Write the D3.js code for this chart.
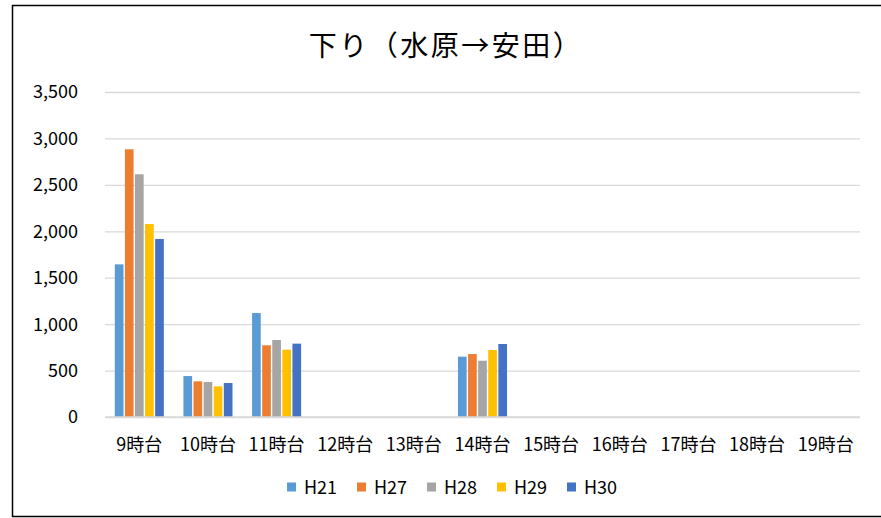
<!DOCTYPE html>
<html>
<head>
<meta charset="utf-8">
<script src="https://cdn.jsdelivr.net/npm/d3@7"></script>
<style>
  html, body { margin: 0; padding: 0; background: #fff; overflow: hidden; }
  svg { display: block; }
  svg text { font-family: "Noto Sans CJK JP", "Noto Sans", sans-serif; fill: #000; }
</style>
</head>
<body>
<div id="chart"></div>
<script>
// --- Data ---
const hours = ["9時台", "10時台", "11時台", "12時台", "13時台", "14時台", "15時台", "16時台", "17時台", "18時台", "19時台"];
const seriesNames = ["H21", "H27", "H28", "H29", "H30"];
const seriesColors = ["#5B9BD5", "#ED7D31", "#A5A5A5", "#FFC000", "#4472C4"];
const h21 = [1644, 441, 1120, null, null, 650, null, null, null, null, null];
const h27 = [2883, 384, 772, null, null, 678, null, null, null, null, null];
const h28 = [2614, 377, 829, null, null, 606, null, null, null, null, null];
const h29 = [2078, 330, 725, null, null, 721, null, null, null, null, null];
const h30 = [1917, 366, 790, null, null, 786, null, null, null, null, null];
const yTicks = [0, 500, 1000, 1500, 2000, 2500, 3000, 3500];

const seriesValues = [h21, h27, h28, h29, h30];

const width = 881, height = 518;
const margin = { top: 92, right: 21, bottom: 101, left: 105 };
const innerWidth = width - margin.left - margin.right;
const innerHeight = height - margin.top - margin.bottom;

const svg = d3.select("#chart").append("svg")
  .attr("width", width)
  .attr("height", height);

// chart frame: left, top and bottom edges (right edge lies outside the picture)
svg.append("path")
  .attr("d", `M${width},5.5 H12.5 V516.5 H${width}`)
  .attr("fill", "none")
  .attr("stroke", "#000")
  .attr("stroke-width", 1.5);

// title
svg.append("text")
  .attr("x", 446)
  .attr("y", 56)
  .attr("text-anchor", "middle")
  .attr("font-size", "28px")
  .attr("letter-spacing", "2.5px")
  .text("下り（水原→安田）");

// --- Scales (in page coordinates) ---
const x = d3.scaleBand().domain(hours).range([margin.left, width - margin.right])
  .paddingInner(0.265).paddingOuter(0.1325);
const xs = d3.scaleBand().domain(seriesNames).range([0, x.bandwidth()])
  .paddingInner(0.14).paddingOuter(0.07);
const y = d3.scaleLinear().domain([0, 3500]).range([margin.top + innerHeight, margin.top]);

// --- Grid ---
svg.append("g")
  .attr("transform", `translate(${margin.left},0)`)
  .call(d3.axisLeft(y).tickValues(yTicks).tickSize(-innerWidth).tickFormat(""))
  .call(a => a.select(".domain").remove())
  .call(a => a.selectAll(".tick line").attr("stroke", "#d9d9d9").attr("stroke-width", 1.3));

// y labels
const fmt = d3.format(",");
svg.selectAll(".ylab")
  .data(yTicks)
  .join("text")
  .attr("class", "ylab")
  .attr("x", margin.left - 27)
  .attr("y", d => y(d))
  .attr("dy", "0.36em")
  .attr("text-anchor", "end")
  .attr("font-size", "18px")
  .text(d => fmt(d));

// --- Bars ---
const groups = svg.selectAll(".grp")
  .data(seriesNames)
  .join("g")
  .attr("class", "grp");

groups.selectAll("rect")
  .data((s, si) => hours.map((h, i) => ({ h, v: seriesValues[si][i], si, s })).filter(d => d.v != null))
  .join("rect")
  .attr("x", d => x(d.h) + xs(d.s))
  .attr("y", d => y(d.v))
  .attr("width", xs.bandwidth())
  .attr("height", d => y(0) - y(d.v))
  .attr("fill", d => seriesColors[d.si]);

// x axis line
svg.append("line")
  .attr("x1", margin.left).attr("x2", width - margin.right)
  .attr("y1", y(0)).attr("y2", y(0))
  .attr("stroke", "#d9d9d9").attr("stroke-width", 1.3);

// x labels
svg.selectAll(".xlab")
  .data(hours)
  .join("text")
  .attr("class", "xlab")
  .attr("x", d => x(d) + x.bandwidth() / 2)
  .attr("y", y(0) + 34)
  .attr("text-anchor", "middle")
  .attr("font-size", "18px")
  .text(d => d);

// --- Legend ---
const item = svg.selectAll(".leg")
  .data(seriesNames)
  .join("g")
  .attr("class", "leg")
  .attr("transform", (d, i) => `translate(${287 + i * 70},487)`);
item.append("rect")
  .attr("x", 0).attr("y", -4.5)
  .attr("width", 9).attr("height", 9)
  .attr("fill", (d, i) => seriesColors[i]);
item.append("text")
  .attr("x", 17)
  .attr("y", 6.5)
  .attr("font-size", "18px")
  .text(d => d);
</script>
</body>
</html>
